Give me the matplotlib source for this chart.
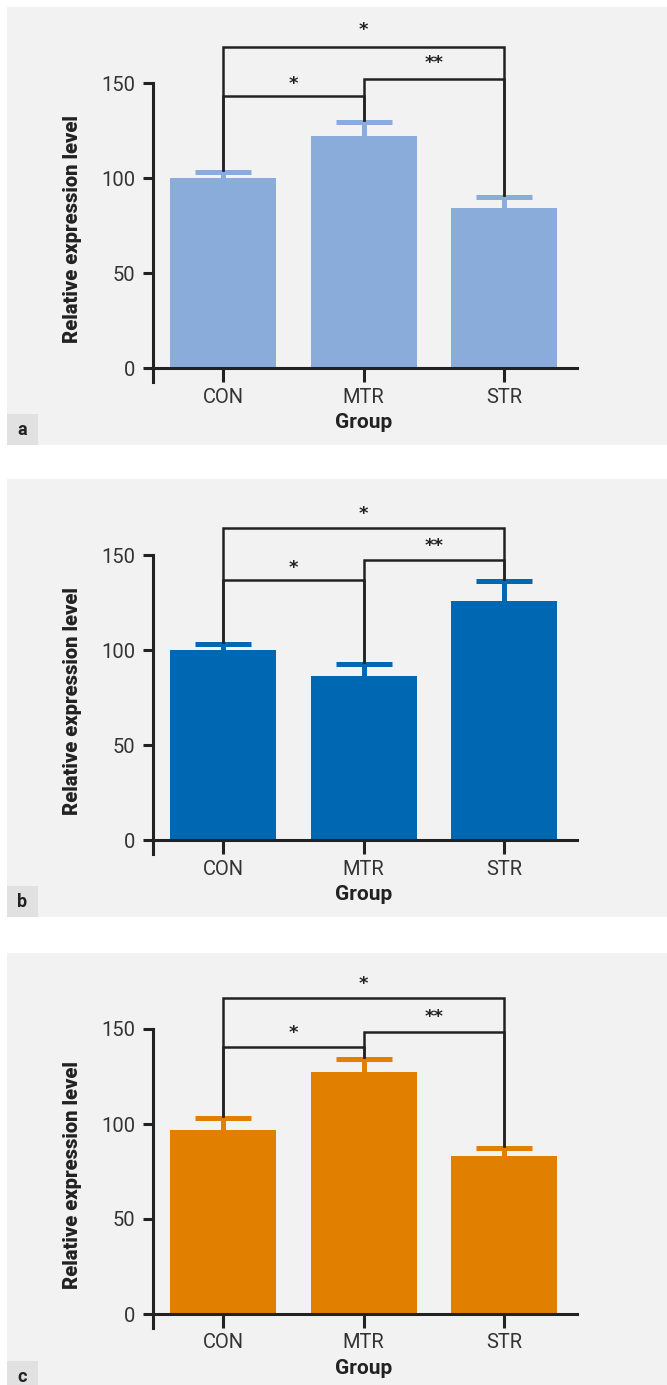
import numpy as np
import matplotlib
matplotlib.use("Agg")
import matplotlib.pyplot as plt
from matplotlib.patches import Rectangle

# ---- data ----
groups = ["CON", "MTR", "STR"]
means_a = [100, 122.3, 84.2]
errs_a = [3.5, 7.5, 6.0]
means_b = [100, 86.5, 126.0]
errs_b = [3.5, 6.4, 10.6]
means_c = [97.1, 127.5, 83.2]
errs_c = [6.0, 6.7, 4.1]
yticks = [0, 50, 100, 150]

# brackets: (left group, right group, height) and star labels (x, y, text)
brackets_a = [(0, 1, 143.2), (1, 2, 152.4), (0, 2, 169.3)]
brackets_b = [(0, 1, 136.8), (1, 2, 147.5), (0, 2, 164.2)]
brackets_c = [(0, 1, 140.7), (1, 2, 148.6), (0, 2, 166.3)]
stars_a = [(0.5, 149.6, "*"), (1.5, 160.8, "**"), (1.0, 178.0, "*")]
stars_b = [(0.5, 143.5, "*"), (1.5, 154.9, "**"), (1.0, 171.7, "*")]
stars_c = [(0.5, 147.7, "*"), (1.5, 156.1, "**"), (1.0, 173.9, "*")]

panel_colors = ["#8aacdb", "#0068b3", "#e07f00"]
panel_letters = ["a", "b", "c"]

W, H = 667, 1385
DARK = "#222222"
NARROW = ["Liberation Sans Narrow", "Roboto", "DejaVu Sans"]

fig = plt.figure(figsize=(W / 100, H / 100), dpi=100)
fig.patch.set_facecolor("white")


def fx(x):
    return x / W


def fy(y):
    return 1 - y / H


ymin, ymax = -7.4, 185
scale = 1.9  # px per unit
# (grey top, grey bottom, label box top, pixel of y=0)
layouts = [(7, 445, 414, 368.3), (479, 917, 886, 840.3), (953, 1392, 1361, 1314.0)]

panels = [
    (means_a, errs_a, brackets_a, stars_a),
    (means_b, errs_b, brackets_b, stars_b),
    (means_c, errs_c, brackets_c, stars_c),
]

for (means, errs, brackets, stars), color, letter, (gtop, gbot, btop, y0) in zip(
        panels, panel_colors, panel_letters, layouts):
    # grey panel background and letter box
    fig.add_artist(Rectangle((fx(7), fy(gbot)), fx(W - 7), (gbot - gtop) / H,
                             transform=fig.transFigure, facecolor="#f2f2f2",
                             edgecolor="none", zorder=0))
    fig.add_artist(Rectangle((fx(7), fy(gbot)), fx(31), (gbot - btop) / H,
                             transform=fig.transFigure, facecolor="#e1e1e1",
                             edgecolor="none", zorder=0))
    fig.text(fx(22), fy(btop + 16), letter, ha="center", va="center",
             fontsize=13, fontweight="bold", color=DARK,
             family=["Roboto", "DejaVu Sans"])

    bot_px = y0 - ymin * scale
    top_px = y0 - ymax * scale
    ax = fig.add_axes([fx(153), fy(bot_px), fx(577 - 153), (bot_px - top_px) / H])
    ax.set_facecolor("none")
    x = np.arange(len(groups))
    ax.bar(x, means, width=0.755, color=color, zorder=2)
    _, caps, _ = ax.errorbar(x, means, yerr=[np.zeros(len(errs)), errs], fmt="none",
                             ecolor=color, elinewidth=3.6, capsize=20.5,
                             capthick=3.6, zorder=2)
    caps[0].set_visible(False)  # no cap at the bar top

    for i, j, h in brackets:
        ax.plot([i, i, j, j], [means[i] + errs[i] + 1, h, h, means[j] + errs[j] + 1],
                color=DARK, lw=1.8, solid_joinstyle="miter", clip_on=False, zorder=3)
    for sx, sy, s in stars:
        ax.text(sx, sy, s, ha="center", va="center", fontsize=13, fontweight="bold",
                color=DARK, family="DejaVu Sans")

    ax.set_xlim(-0.5, 2.52)
    ax.set_ylim(ymin, ymax)
    for side in ("top", "right"):
        ax.spines[side].set_visible(False)
    ax.spines["left"].set_bounds(ymin, 150)
    ax.spines["bottom"].set_position(("data", 0))
    for side in ("left", "bottom"):
        ax.spines[side].set_linewidth(2.2)
        ax.spines[side].set_color(DARK)
    ax.set_yticks(yticks)
    ax.set_xticks(x)
    ax.set_xticklabels(groups)
    ax.tick_params(axis="y", length=7.2, width=2.2, color=DARK, pad=5.5,
                   labelsize=14.5, labelcolor="#333333")
    ax.tick_params(axis="x", length=9.9, width=2.2, color=DARK, pad=4,
                   labelsize=14.5, labelcolor="#333333")
    for lab in ax.get_xticklabels() + ax.get_yticklabels():
        lab.set_family(NARROW)

    fig.text(fx(72), fy(y0 - 73.3 * scale), "Relative expression level",
             rotation=90, ha="center", va="center", fontsize=14.5,
             fontweight="heavy", color=DARK, family=["Roboto", "DejaVu Sans"])
    fig.text(fx(364), fy(y0 + 54), "Group", ha="center", va="center",
             fontsize=15, fontweight="bold", color=DARK, family=NARROW)

fig.savefig("out.png", dpi=100, facecolor="white")
